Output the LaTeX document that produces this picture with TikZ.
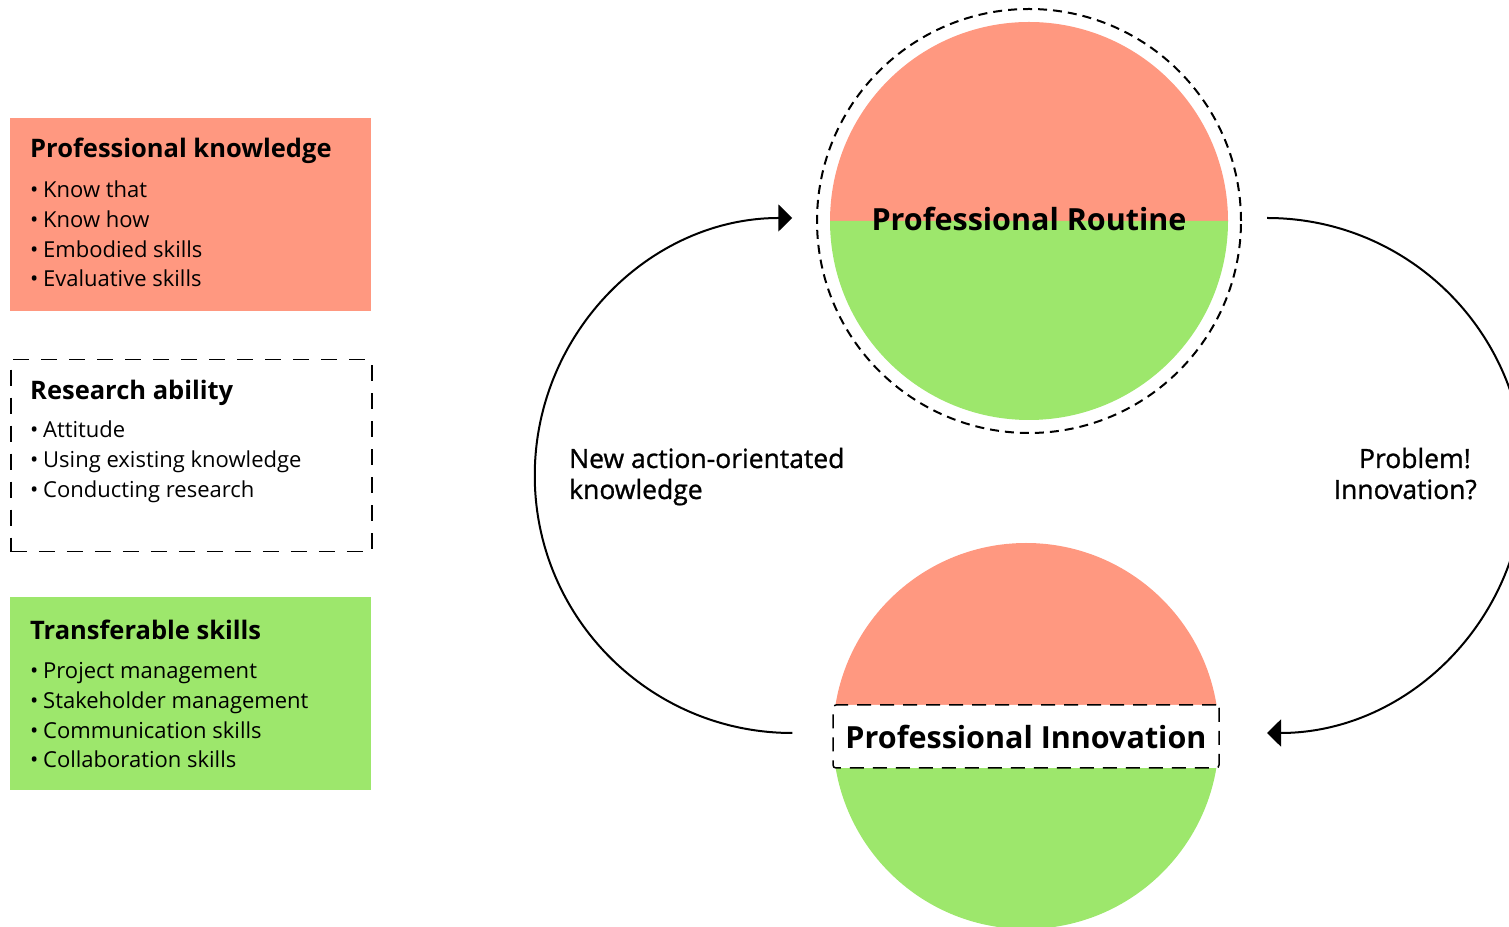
\documentclass[tikz,border=0pt]{standalone}
\usepackage{fontspec}
\setmainfont{Open Sans}
\newfontfamily\medfont[FakeBold=1]{Open Sans}
\usetikzlibrary{arrows.meta,calc}
\definecolor{salmon}{RGB}{255,152,128}
\definecolor{lgreen}{RGB}{157,231,108}
\begin{document}
\begin{tikzpicture}[x=1pt,y=1pt,
  box/.style={anchor=north west, inner sep=0pt, minimum width=361pt, minimum height=193pt},
  boxtitle/.style={anchor=base west, inner sep=0pt, font=\bfseries\fontsize{25.5}{30}\selectfont},
  boxitem/.style={anchor=base west, inner sep=0pt, font=\fontsize{22}{26}\selectfont},
  circlabel/.style={inner sep=0pt, font=\bfseries\fontsize{30.5}{36}\selectfont},
  arclabel/.style={inner sep=0pt, font=\medfont\fontsize{26.5}{32}\selectfont},
  conn/.style={line width=2pt, -{Triangle[length=14pt,width=27pt]}}
]
\useasboundingbox (0,0) rectangle (1509,926);
\clip (0,0) rectangle (1509,926);
\newcommand{\itm}[1]{\makebox[13pt][l]{\textbullet}#1}

% Left boxes
\node[box, fill=salmon] (pk) at (10,808) {};
\node[boxtitle] (pkt) at (30,768) {Professional knowledge};
\node[boxitem] (pk1) at (30,728) {\itm{Know that}};
\node[boxitem] (pk2) at (30,698.3) {\itm{Know how}};
\node[boxitem] (pk3) at (30,668.6) {\itm{Embodied skills}};
\node[boxitem] (pk4) at (30,639) {\itm{Evaluative skills}};

\node[box, minimum height=192pt, draw, line width=1.5pt, dash pattern=on 16pt off 12pt] (ra) at (10,567) {};
\node[boxtitle] (rat) at (30,526) {Research ability};
\node[boxitem] (ra1) at (30,488) {\itm{Attitude}};
\node[boxitem] (ra2) at (30,458.3) {\itm{Using existing knowledge}};
\node[boxitem] (ra3) at (30,428.6) {\itm{Conducting research}};

\node[box, fill=lgreen] (ts) at (10,329) {};
\node[boxtitle] (tst) at (30,286) {Transferable skills};
\node[boxitem] (ts1) at (30,247) {\itm{Project management}};
\node[boxitem] (ts2) at (30,217.3) {\itm{Stakeholder management}};
\node[boxitem] (ts3) at (30,187.6) {\itm{Communication skills}};
\node[boxitem] (ts4) at (30,158) {\itm{Collaboration skills}};

% Top circle: Professional Routine
\fill[salmon] (1228,705) arc[start angle=0,end angle=180,radius=199] -- cycle;
\fill[lgreen] (1228,705) arc[start angle=0,end angle=-180,radius=199] -- cycle;
\draw[line width=2pt, dash pattern=on 9pt off 6pt] (1029,705) circle[radius=212];
\node[circlabel] (routine) at (1029,707) {Professional Routine};

% Bottom circle: Professional Innovation
\begin{scope}
  \clip (1026,190) circle[radius=193];
  \fill[salmon] (800,190) rectangle (1250,400);
  \fill[lgreen] (800,-30) rectangle (1250,190);
\end{scope}
\node[draw, line width=1.5pt, dash pattern=on 14pt off 9pt, fill=white, rounded corners=3pt,
      minimum width=386pt, minimum height=63pt, inner sep=0pt, font=\bfseries\fontsize{30.5}{36}\selectfont]
      (innov) at (1026,189.5) {Professional Innovation};

% Connectors
\coordinate (lstart) at ($(innov.west)+(-40,3.5)$);
\coordinate (rstart) at (1267,708);
\draw[conn] (lstart) arc[start angle=270,end angle=90,radius=257.5];
\draw[conn] (rstart) arc[start angle=90,end angle=-90,radius=257.5];

% Arc labels
\node[arclabel, anchor=base west] (nk1) at (569,458) {New action-orientated};
\node[arclabel, anchor=base west] (nk2) at (569,427) {knowledge};
\node[arclabel, anchor=base east] (pi1) at (1471,458) {Problem!};
\node[arclabel, anchor=base east] (pi2) at (1477,427) {Innovation?};
\end{tikzpicture}
\end{document}
